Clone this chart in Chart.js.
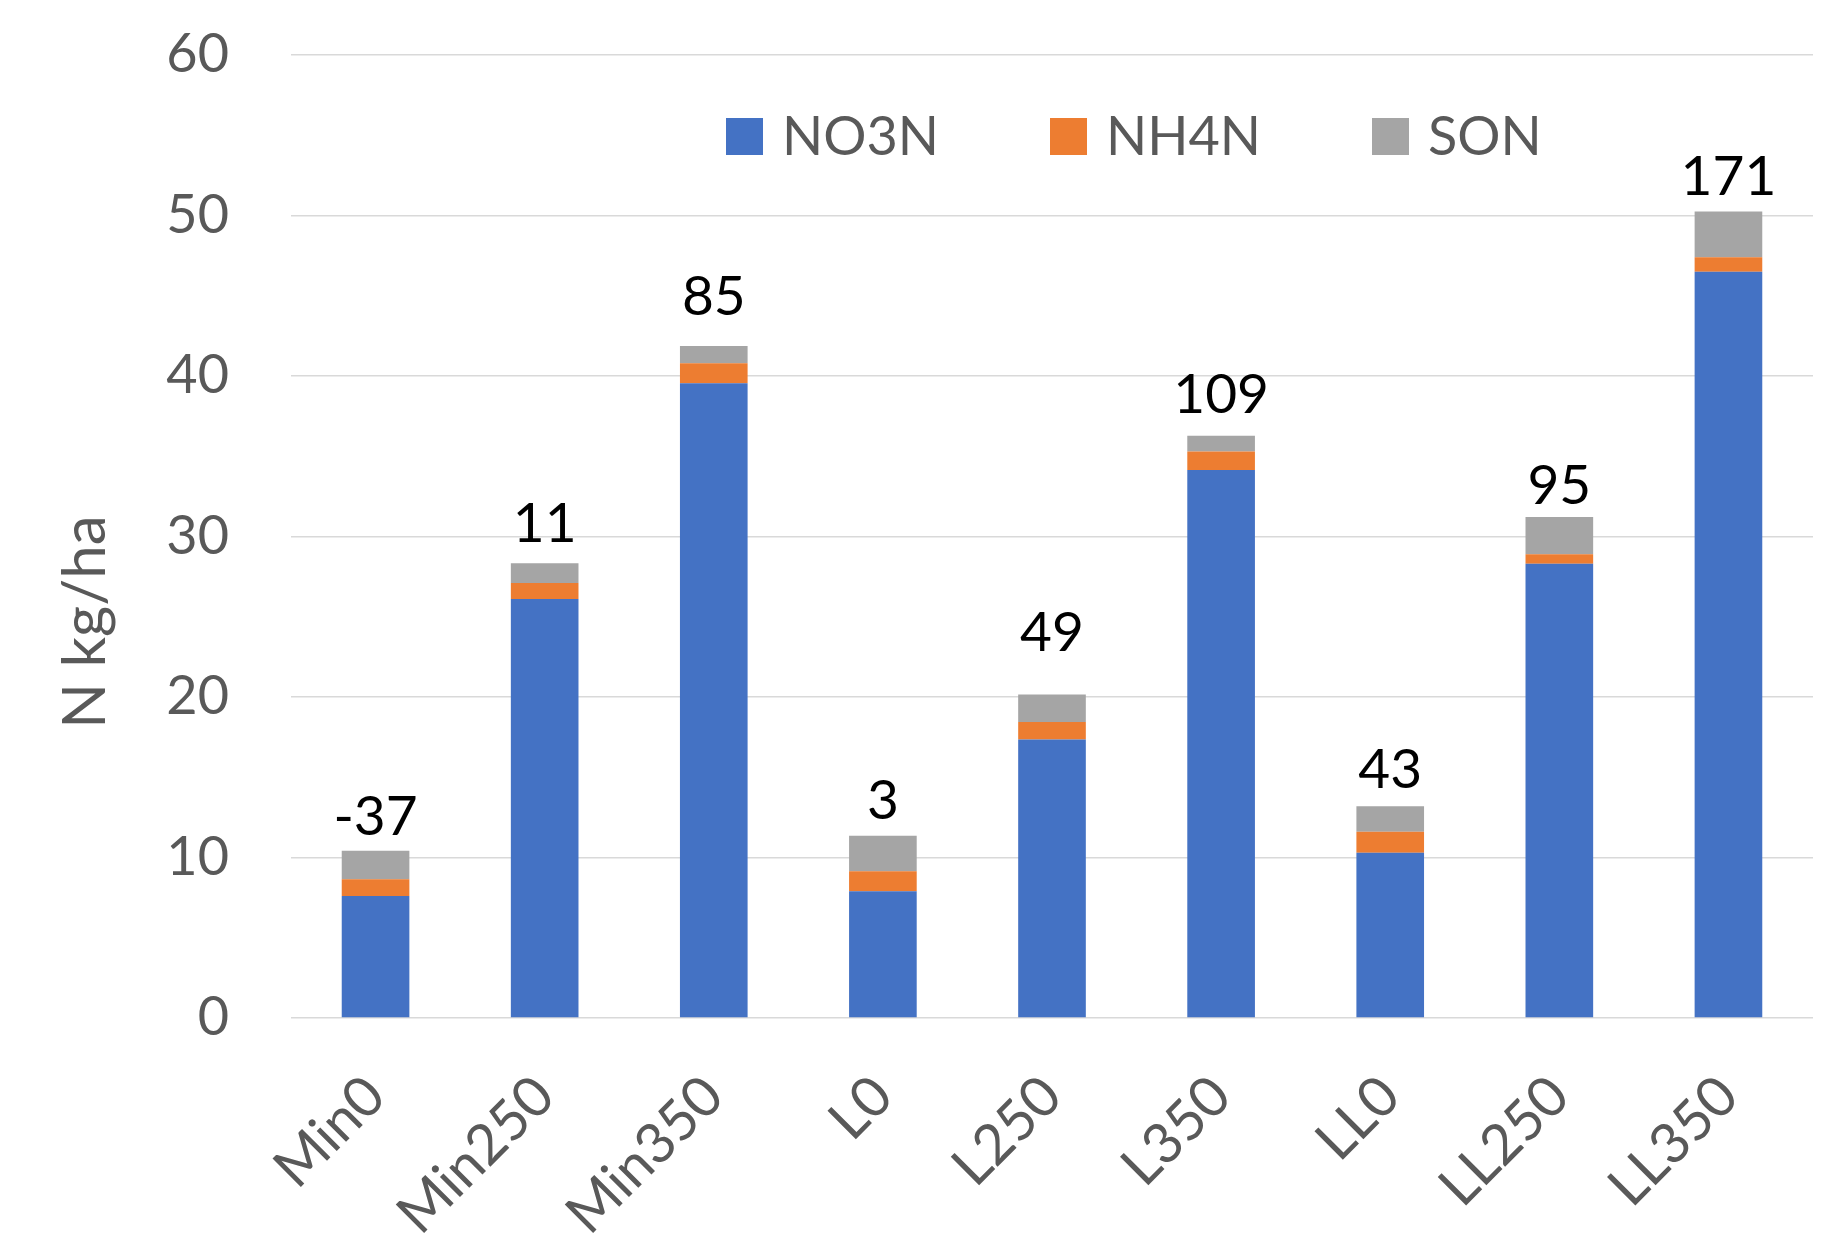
<!DOCTYPE html>
<html>
<head>
<meta charset="utf-8">
<script src="https://cdn.jsdelivr.net/npm/chart.js@4.4.1/dist/chart.umd.min.js"></script>
<style>
    html, body { margin: 0; padding: 0; background: #fff; overflow: hidden; }
    #wrap { width: 1839px; height: 1245px; }
</style>
</head>
<body>
<div id="wrap"><canvas id="myChart" width="1839" height="1245"></canvas></div>
<script>
// Data
const categories = ['Min0', 'Min250', 'Min350', 'L0', 'L250', 'L350', 'LL0', 'LL250', 'LL350'];
const no3n = [7.6, 26.1, 39.55, 7.9, 17.35, 34.15, 10.3, 28.3, 46.5];
const nh4n = [1.05, 1.0, 1.25, 1.25, 1.1, 1.15, 1.3, 0.6, 0.9];
const son = [1.77, 1.23, 1.07, 2.2, 1.7, 0.97, 1.6, 2.32, 2.85];
const balanceLabels = ['-37', '11', '85', '3', '49', '109', '43', '95', '171'];
const seriesNames = ['NO3N', 'NH4N', 'SON'];
const seriesColors = ['#4472C4', '#ED7D31', '#A5A5A5'];
const yMin = 0, yMax = 60, yStep = 10;
const yTitle = 'N kg/ha';

// pixel gap between each stack top and its label (labels were hand placed)
const labelGap = [16, 21, 31, 17, 44, 23, 18, 13, 16];

const FONT = 'Lato, "Open Sans", sans-serif';
const GREY = '#595959';

// labels above each stack
const balancePlugin = {
    id: 'balance',
    afterDatasetsDraw(chart) {
        const ctx = chart.ctx;
        const meta = chart.getDatasetMeta(2);
        ctx.save();
        ctx.font = '55px ' + FONT;
        ctx.fillStyle = '#000';
        ctx.textAlign = 'center';
        ctx.textBaseline = 'alphabetic';
        meta.data.forEach(function(bar, i) {
            ctx.fillText(balanceLabels[i], bar.x, bar.y - labelGap[i]);
        });
        ctx.restore();
    }
};

// legend drawn inside the plot like Excel does, plus the y title
const legendPlugin = {
    id: 'insideLegend',
    afterDraw(chart) {
        const ctx = chart.ctx;
        const boxX = [726, 1050, 1372];
        ctx.save();
        ctx.font = '54px ' + FONT;
        ctx.textBaseline = 'middle';
        ctx.textAlign = 'left';
        chart.data.datasets.forEach(function(ds, i) {
            ctx.fillStyle = ds.backgroundColor;
            ctx.fillRect(boxX[i], 118, 37, 37);
            ctx.fillStyle = GREY;
            ctx.fillText(ds.label, boxX[i] + 56, 138);
        });
        // axis title
        ctx.translate(86, 622);
        ctx.rotate(-Math.PI / 2);
        ctx.textAlign = 'center';
        ctx.font = '60px ' + FONT;
        ctx.fillText(yTitle, 0, 0);
        ctx.restore();
    }
};

const config = {
    type: 'bar',
    data: {
        labels: categories,
        datasets: [
            { label: seriesNames[0], data: no3n, backgroundColor: seriesColors[0] },
            { label: seriesNames[1], data: nh4n, backgroundColor: seriesColors[1] },
            { label: seriesNames[2], data: son, backgroundColor: seriesColors[2] }
        ]
    },
    options: {
        responsive: false,
        animation: false,
        devicePixelRatio: 1,
        layout: { padding: { top: 55, right: 26, left: 50, bottom: 0 } },
        datasets: {
            bar: { barPercentage: 0.4, categoryPercentage: 1, borderWidth: 0 }
        },
        scales: {
            x: {
                stacked: true,
                grid: { display: false, drawTicks: false },
                border: { display: false },
                ticks: {
                    minRotation: 45, maxRotation: 45,
                    color: GREY,
                    font: { size: 56, family: FONT },
                    padding: 45
                },
                afterFit(scale) { scale.height = 227; }
            },
            y: {
                stacked: true,
                min: yMin, max: yMax,
                grid: { color: '#D9D9D9', lineWidth: 1.5, drawTicks: false },
                border: { display: false },
                ticks: {
                    stepSize: yStep,
                    color: GREY,
                    font: { size: 54, family: FONT },
                    padding: 62
                },
                afterFit(scale) {
                    scale.width = 241;
                    scale.paddingTop = 0;
                    scale.paddingBottom = 0;
                }
            }
        },
        plugins: {
            legend: { display: false },
            tooltip: { enabled: false }
        }
    },
    plugins: [balancePlugin, legendPlugin]
};

const chart = new Chart(document.getElementById('myChart'), config);
</script>
</body>
</html>
